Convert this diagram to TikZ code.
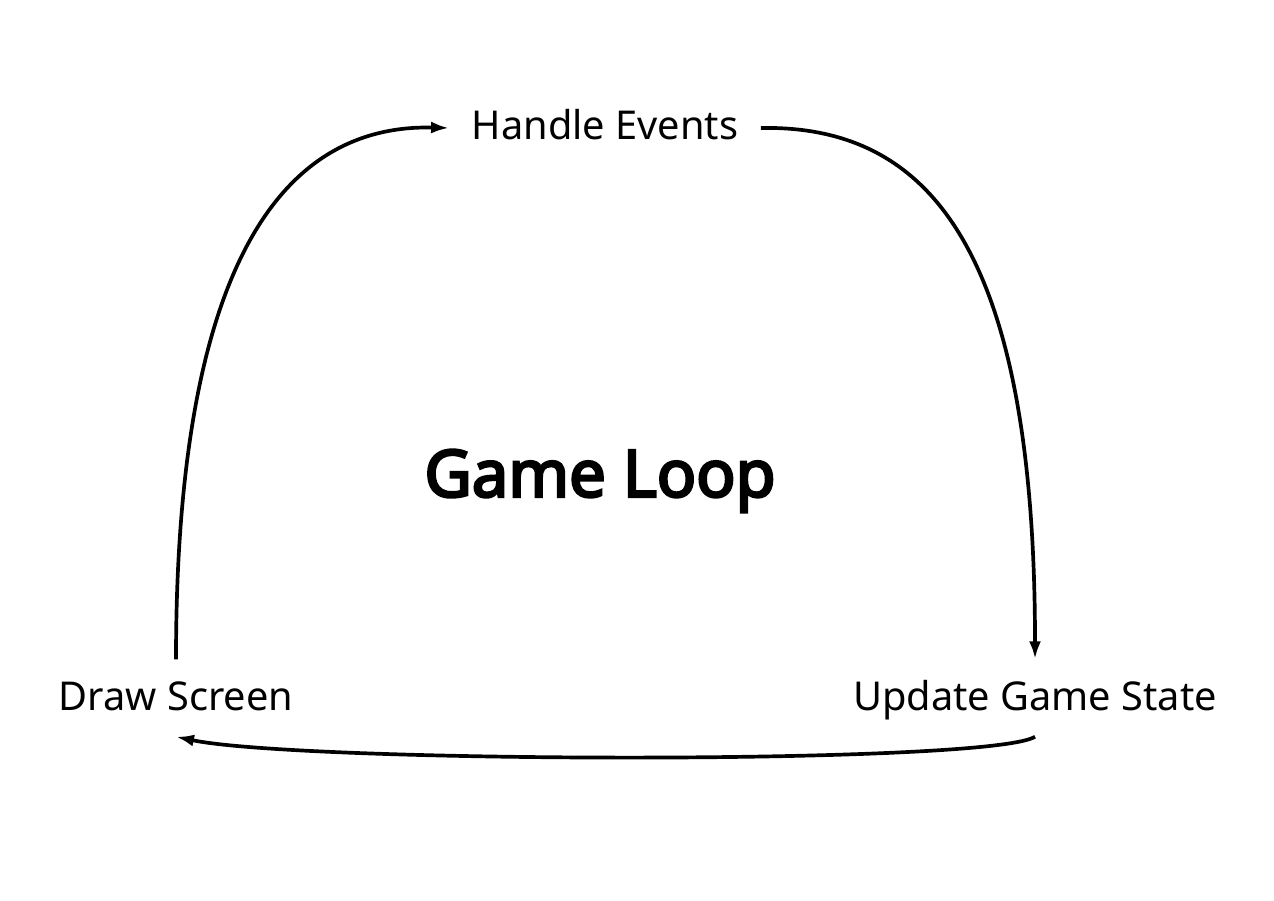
\documentclass[tikz,border=0pt]{standalone}
\usepackage{fontspec}
\setmainfont{Noto Sans}
\newfontfamily\titlefont{Noto Sans}[FakeBold=4]
\usepackage{tikz}
\usetikzlibrary{positioning}
\usetikzlibrary{arrows.meta}

\begin{document}
\begin{tikzpicture}[x=0.01cm, y=-0.01cm,
	step label/.style={font=\fontsize{11.3}{13}\selectfont, anchor=base,
		text height=0.32cm, text depth=0.08cm, inner xsep=0.22cm, inner ysep=0.18cm},
	loop arrow/.style={line width=1.05pt, -{Latex[length=0.18cm, width=0.12cm]}}]

		% Canvas (pixel-like coordinates)
		\useasboundingbox (0,0) rectangle (1274,901);

		% Labels
		\node[step label] (he)  at (605,140) {Handle Events};
		\node[step label] (ds)  at (176,710) {Draw Screen};
		\node[step label] (ugs) at (1035,710) {Update Game State};
		\node[font=\titlefont\fontsize{18.5}{22}\selectfont] (gl) at (600,481) {Game Loop};

		% Arrows of the loop
		\draw[loop arrow] (he.east) .. controls (930,125) and (1035,250) .. (ugs.north);
		\draw[loop arrow] (ugs.south) .. controls (990,765) and (300,763) .. (ds.south);
		\draw[loop arrow] (ds.north) .. controls (176,250) and (290,124) .. (he.west);

	\end{tikzpicture}
\end{document}
